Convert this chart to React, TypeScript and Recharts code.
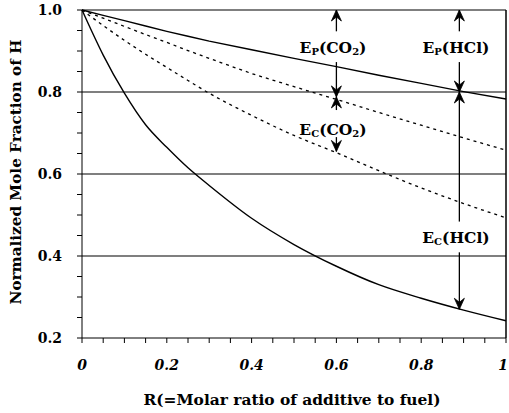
import { LineChart, Line, XAxis, YAxis, ReferenceLine, ReferenceDot } from 'recharts';

const SERIF = "'DejaVu Serif', 'Liberation Serif', serif";

// R = molar ratio of additive to fuel
const R_VALUES = [0, 0.05, 0.1, 0.15, 0.2, 0.25, 0.3, 0.4, 0.5, 0.6, 0.7, 0.8, 0.9, 1.0];
// normalized mole fraction of H
const HCL_PHYSICAL = [1.0, 0.987, 0.974, 0.961, 0.948, 0.936, 0.924, 0.903, 0.882, 0.862, 0.841, 0.821, 0.801, 0.783];
const CO2_PHYSICAL = [1.0, 0.98, 0.96, 0.94, 0.921, 0.901, 0.882, 0.845, 0.813, 0.782, 0.75, 0.719, 0.688, 0.658];
const CO2_TOTAL = [1.0, 0.962, 0.926, 0.892, 0.86, 0.828, 0.797, 0.743, 0.694, 0.652, 0.608, 0.566, 0.528, 0.493];
const HCL_TOTAL = [1.0, 0.89, 0.797, 0.72, 0.665, 0.615, 0.572, 0.492, 0.428, 0.375, 0.33, 0.297, 0.268, 0.242];

const X_TICKS = [0, 0.05, 0.1, 0.15, 0.2, 0.25, 0.3, 0.35, 0.4, 0.45, 0.5, 0.55, 0.6, 0.65, 0.7, 0.75, 0.8, 0.85, 0.9, 0.95, 1];
const Y_TICKS = [0.2, 0.25, 0.3, 0.35, 0.4, 0.45, 0.5, 0.55, 0.6, 0.65, 0.7, 0.75, 0.8, 0.85, 0.9, 0.95, 1];
const GRID_Y = [0.4, 0.6, 0.8, 1.0];

const data = R_VALUES.map((r, i) => ({
  r,
  hclPhys: HCL_PHYSICAL[i],
  co2Phys: CO2_PHYSICAL[i],
  co2Tot: CO2_TOTAL[i],
  hclTot: HCL_TOTAL[i],
}));

const isMajor = (v: number) => Math.abs(v * 5 - Math.round(v * 5)) < 1e-6;

// annotation arrows – arrowhead sits at "to"
const ARROWS = [
  { x: 0.6, from: 0.948, to: 1.0 },
  { x: 0.6, from: 0.873, to: 0.788 },
  { x: 0.6, from: 0.756, to: 0.788 },
  { x: 0.6, from: 0.69, to: 0.655 },
  { x: 0.89, from: 0.948, to: 1.0 },
  { x: 0.89, from: 0.873, to: 0.8 },
  { x: 0.89, from: 0.484, to: 0.8 },
  { x: 0.89, from: 0.409, to: 0.27 },
];

const LABELS = [
  { x: 0.592, y: 0.895, sub: 'P', body: '(CO', sub2: '2', post: ')' },
  { x: 0.592, y: 0.695, sub: 'C', body: '(CO', sub2: '2', post: ')' },
  { x: 0.882, y: 0.895, sub: 'P', body: '(HCl)', sub2: '', post: '' },
  { x: 0.882, y: 0.432, sub: 'C', body: '(HCl)', sub2: '', post: '' },
];

const arrowHead = (up: boolean) => (props: any) => {
  const { cx, cy } = props;
  const d = up ? 1 : -1;
  return (
    <path
      d={`M${cx},${cy} L${cx - 5},${cy + d * 11} L${cx},${cy + d * 7} L${cx + 5},${cy + d * 11} Z`}
      fill="#000"
      stroke="#000"
      strokeWidth={0.8}
    />
  );
};

const labelShape = (l: (typeof LABELS)[number]) => (props: any) => (
  <text
    x={props.cx}
    y={props.cy}
    textAnchor="middle"
    fontFamily={SERIF}
    fontWeight="bold"
    fontSize={15.5}
    fill="#000"
  >
    E
    <tspan fontSize={10} dy={2}>{l.sub}</tspan>
    <tspan dy={-2}>{l.body}</tspan>
    {l.sub2 ? <tspan fontSize={10} dy={2}>{l.sub2}</tspan> : null}
    {l.post ? <tspan dy={-2}>{l.post}</tspan> : null}
  </text>
);

const XTick = (props: any) => {
  const { x, y, payload } = props;
  const v = payload.value as number;
  if (!isMajor(v)) return null;
  const text = v === 0 ? '0' : v === 1 ? '1' : v.toFixed(1);
  return (
    <text
      x={v === 1 ? x - 3 : x}
      y={y + 10}
      textAnchor="middle"
      fontFamily={SERIF}
      fontWeight="bold"
      fontStyle="italic"
      fontSize={14}
      fill="#000"
    >
      {text}
    </text>
  );
};

const YLabel = (props: any) => {
  const { viewBox } = props;
  const x = 16;
  const y = viewBox.y + viewBox.height / 2 - 2;
  return (
    <text
      x={x}
      y={y}
      transform={`rotate(-90 ${x} ${y})`}
      textAnchor="middle"
      dominantBaseline="central"
      fontFamily={SERIF}
      fontWeight="bold"
      fontSize={15}
      textLength={265}
      lengthAdjust="spacingAndGlyphs"
      fill="#000"
    >
      Normalized Mole Fraction of H
    </text>
  );
};

const XLabel = (props: any) => {
  const { viewBox } = props;
  const x = viewBox.x + viewBox.width / 2 - 2;
  return (
    <text
      x={x}
      y={405}
      textAnchor="middle"
      fontFamily={SERIF}
      fontWeight="bold"
      fontSize={15}
      textLength={297}
      lengthAdjust="spacingAndGlyphs"
      fill="#000"
    >
      R(=Molar ratio of additive to fuel)
    </text>
  );
};

export default function App() {
  return (
    <div style={{ position: 'absolute', left: 0, top: 0, background: '#fff' }}>
      <LineChart width={509} height={413} data={data} margin={{ top: 10, right: 3, bottom: 0, left: 0 }}>
        <XAxis
          dataKey="r"
          type="number"
          domain={[0, 1]}
          ticks={X_TICKS}
          interval={0}
          stroke="#000"
          tickSize={5}
          tickMargin={17}
          height={75}
          tick={<XTick />}
          label={<XLabel />}
        />
        <YAxis
          type="number"
          domain={[0.2, 1]}
          ticks={Y_TICKS}
          interval={0}
          tickFormatter={(v: number) => (isMajor(v) ? v.toFixed(1) : '')}
          stroke="#000"
          width={82}
          tickSize={5}
          tickMargin={15}
          tick={{ fill: '#000', fontFamily: SERIF, fontWeight: 'bold', fontSize: 14 }}
          label={<YLabel />}
        />
        {GRID_Y.map((g) => (
          <ReferenceLine key={g} y={g} stroke="#000" strokeWidth={1.2} />
        ))}
        <ReferenceLine x={1} stroke="#000" strokeWidth={1.5} />
        <Line dataKey="hclPhys" stroke="#000" strokeWidth={1.4} dot={false} isAnimationActive={false} type="linear" />
        <Line dataKey="co2Phys" stroke="#000" strokeWidth={1.3} strokeDasharray="3 4" dot={false} isAnimationActive={false} type="linear" />
        <Line dataKey="co2Tot" stroke="#000" strokeWidth={1.3} strokeDasharray="3 4" dot={false} isAnimationActive={false} type="monotone" />
        <Line dataKey="hclTot" stroke="#000" strokeWidth={1.4} dot={false} isAnimationActive={false} type="monotone" />
        {ARROWS.map((a, i) => (
          <ReferenceLine
            key={`l${i}`}
            segment={[{ x: a.x, y: a.from }, { x: a.x, y: a.to }]}
            stroke="#000"
            strokeWidth={1.3}
          />
        ))}
        {ARROWS.map((a, i) => (
          <ReferenceDot key={`h${i}`} x={a.x} y={a.to} r={1} shape={arrowHead(a.to > a.from)} />
        ))}
        {LABELS.map((l, i) => (
          <ReferenceDot key={`t${i}`} x={l.x} y={l.y} r={1} shape={labelShape(l)} />
        ))}
      </LineChart>
    </div>
  );
}
